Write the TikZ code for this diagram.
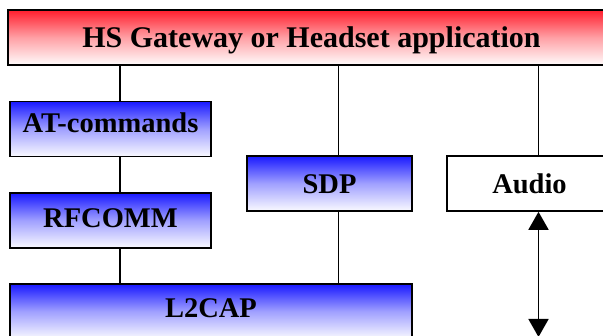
\documentclass[tikz,border=0pt]{standalone}
\usepackage{fontspec}
\setmainfont{Liberation Serif}
\usetikzlibrary{arrows.meta}
\definecolor{bluetop}{RGB}{25,25,255}
\definecolor{bluemid}{RGB}{160,160,255}
\definecolor{bluebot}{RGB}{250,250,255}
\definecolor{redtop}{RGB}{255,30,45}
\definecolor{redmid}{RGB}{255,160,165}
\definecolor{redbot}{RGB}{255,252,252}
\tikzset{
  layer/.style={draw=black, line width=1.6pt, rectangle, inner sep=0pt,
    font=\fontsize{28.5}{30}\selectfont\bfseries, text height=20pt},
  bluebox/.style={layer, top color=bluetop, bottom color=bluebot, middle color=bluemid},
  redbox/.style={layer, top color=redtop, bottom color=redbot, middle color=redmid,
    font=\fontsize{30}{32}\selectfont\bfseries},
  plainbox/.style={layer, fill=white},
  conn/.style={line width=1.6pt, black},
  dual/.style={line width=1.7pt, black, {Triangle[width=20pt,length=18pt]}-{Triangle[width=20pt,length=18pt]}}
}
\begin{document}
\begin{tikzpicture}[x=1pt,y=-1pt]
\useasboundingbox (0,0) rectangle (603,336);
\clip (0,0) rectangle (603,336);
\fill[white] (0,0) rectangle (603,336);
% boxes
\node[redbox, minimum width=607pt, minimum height=55pt, text depth=0pt] (top) at (311.5,37.5) {HS Gateway or Headset application};
\node[bluebox, minimum width=201pt, minimum height=55pt, text depth=12pt] (at) at (110.5,129) {AT-commands};
\node[bluebox, minimum width=201pt, minimum height=55pt, text depth=5pt] (rf) at (110.5,220.5) {RFCOMM};
\node[bluebox, minimum width=402pt, minimum height=55pt, text depth=8pt] (l2) at (211,311.5) {L2CAP};
\node[bluebox, minimum width=165pt, minimum height=55pt, text depth=0pt] (sdp) at (329.5,183.5) {SDP};
\node[plainbox, minimum width=165pt, minimum height=55pt, text depth=0pt] (audio) at (529.5,183.5) {Audio};
% connector x-positions
\coordinate (xa) at (120,0);
\coordinate (xs) at (338.5,0);
\coordinate (xu) at (538.5,0);
\coordinate (bottomend) at (538.5,337);
% connectors
\draw[conn] (xa |- top.south) -- (xa |- at.north);
\draw[conn] (xa |- at.south) -- (xa |- rf.north);
\draw[conn] (xa |- rf.south) -- (xa |- l2.north);
\draw[conn] (xs |- top.south) -- (xs |- sdp.north);
\draw[conn] (xs |- sdp.south) -- (xs |- l2.north);
\draw[conn] (xu |- top.south) -- (xu |- audio.north);
\draw[dual] (xu |- audio.south) -- (bottomend);
\end{tikzpicture}
\end{document}
